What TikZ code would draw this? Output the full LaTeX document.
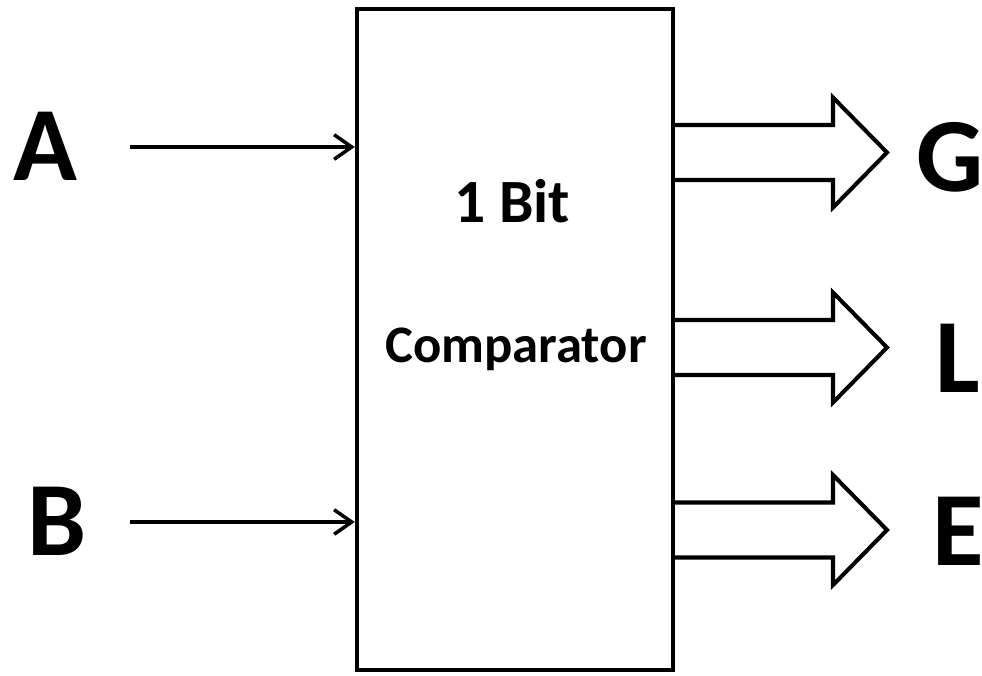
\documentclass[tikz,border=0pt]{standalone}
\usepackage{fontspec}
\setmainfont{Carlito}
\usetikzlibrary{arrows.meta,positioning}
\begin{document}
\begin{tikzpicture}[x=0.02cm,y=-0.02cm,>={Straight Barb[length=10pt,width=14pt,line width=2pt]},
  biglabel/.style={font=\bfseries\fontsize{60}{60}\selectfont,inner sep=0pt,anchor=base},
  boxtext/.style={font=\bfseries\fontsize{35}{35}\selectfont,inner sep=0pt,anchor=base},
  blockarrow/.style={draw,line width=2.3pt,line join=miter}]
  \useasboundingbox (0,0) rectangle (982,675);
  \node[draw,line width=2.6pt,minimum width=6.32cm,minimum height=13.22cm] (cmp) at (515,339.5) {};
  \node[boxtext] (bit) at (512,223) {1 Bit};
  \node[boxtext,font=\bfseries\fontsize{30}{30}\selectfont] (cname) at (516,362) {Comparator};
  \node[biglabel] (a) at (45,181) {A};
  \node[biglabel] (b) at (57,555) {B};
  \node[biglabel] (g) at (950,192) {G};
  \node[biglabel] (l) at (958,392) {L};
  \node[biglabel] (e) at (958,565) {E};
  \coordinate (ain) at (130,147);
  \coordinate (bin) at (130,522);
  \draw[->,line width=2.2pt] (ain) -- (ain -| cmp.west);
  \draw[->,line width=2.2pt] (bin) -- (bin -| cmp.west);
  \coordinate (gout) at (673,152.5);
  \coordinate (lout) at (673,347.5);
  \coordinate (eout) at (673,530);
  \foreach \p in {gout,lout,eout}
    \draw[blockarrow] (\p) ++(0,-27.5) -- ++(160,0) -- ++(0,-27.5) -- ++(54,55)
      -- ++(-54,55) -- ++(0,-27.5) -- ++(-160,0);
\end{tikzpicture}
\end{document}
